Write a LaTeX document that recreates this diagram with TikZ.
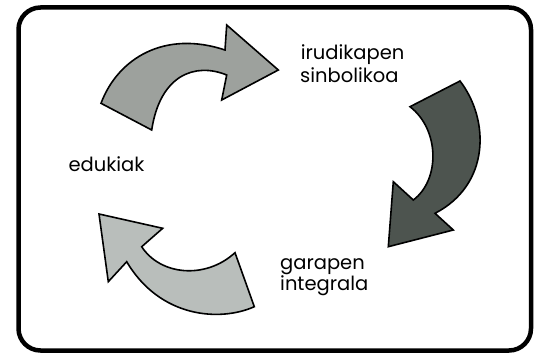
\documentclass[tikz,border=0pt]{standalone}
\usepackage{fontspec}
\setmainfont{Poppins}
\usetikzlibrary{calc}

\definecolor{arrowmid}{HTML}{9DA19D}
\definecolor{arrowdark}{HTML}{4D544F}
\definecolor{arrowlight}{HTML}{B9BEBB}

\begin{document}
\begin{tikzpicture}[x=1pt,y=-1pt,
    bigarrow/.style={draw=black,line width=1.6pt},
    label/.style={anchor=base west,inner sep=0pt,font=\fontsize{19.5}{22}\selectfont}]

% picture size
\useasboundingbox (0,0) rectangle (534,353);

% frame
\draw[line width=4.5pt,rounded corners=22pt] (18.5,7.5) rectangle (531,350.5);

% top arrow
\filldraw[bigarrow,fill=arrowmid] (101,103.3)
  .. controls (118,58) and (165,30) .. (225,50)
  -- (226.7,25) -- (278.3,70) -- (221.7,100) -- (226.7,75)
  .. controls (195,62) and (160,75) .. (151.7,130) -- cycle;

% right arrow
\filldraw[bigarrow,fill=arrowdark] (410,106.7) -- (460,81)
  .. controls (490,120) and (490,185) .. (435,213.3)
  -- (453.3,230) -- (388.3,246.7) -- (393.3,181.7) -- (413.3,200)
  .. controls (440,180) and (440,130) .. (410,106.7) -- cycle;

% bottom arrow
\filldraw[bigarrow,fill=arrowlight] (235,252.7) -- (254.3,306.7)
  .. controls (220,322) and (160,318) .. (126.7,261.7)
  -- (108.3,281.7) -- (99,214) -- (162.7,228.3) -- (141.7,246.7)
  .. controls (160,275) and (205,280) .. (235,252.7) -- cycle;

% labels
\node[label] (irud) at (300.7,59.3) {irudikapen};
\node[label] (sinb) at (300,82.3) {sinbolikoa};
\node[label] (edu) at (68.3,171.7) {edukiak};
\node[label] (gar) at (280,269.5) {garapen};
\node[label] (integ) at (280,290.5) {integrala};

\end{tikzpicture}
\end{document}
